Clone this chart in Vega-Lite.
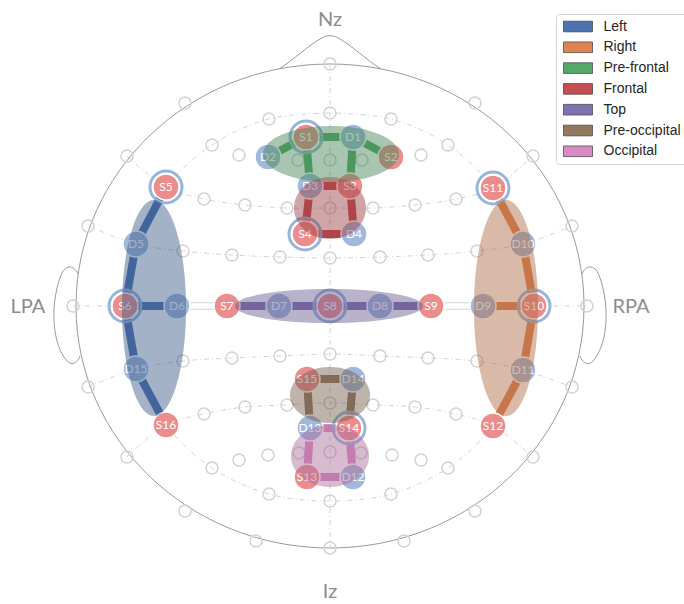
{
  "$schema": "https://vega.github.io/schema/vega-lite/v6.json",
  "width": 684,
  "height": 604,
  "padding": 0,
  "autosize": {"type": "fit", "contains": "padding"},
  "background": "white",
  "config": {"view": {"stroke": null}},
  "resolve": {"legend": {"color": "independent"}},
  "datasets": {
    "head": [{"X": 0, "Y": 0}],
    "landmarks": [
      {"label": "Nz", "X": 0, "Y": 286},
      {"label": "Iz", "X": 0, "Y": -286},
      {"label": "LPA", "X": -302, "Y": -1},
      {"label": "RPA", "X": 301, "Y": -1}
    ],
    "grid": [
      {"X": 0, "Y": 242}, {"X": -145, "Y": 203}, {"X": 145, "Y": 203}, {"X": -203, "Y": 150}, {"X": 203, "Y": 150},
      {"X": -242, "Y": 80}, {"X": 242, "Y": 80}, {"X": -257, "Y": 0}, {"X": 257, "Y": 0}, {"X": -242, "Y": -81},
      {"X": 242, "Y": -81}, {"X": -203, "Y": -151}, {"X": 203, "Y": -151}, {"X": -145, "Y": -205}, {"X": 145, "Y": -205},
      {"X": -74, "Y": -235}, {"X": 74, "Y": -235}, {"X": 0, "Y": -242},
      {"X": 0, "Y": 193}, {"X": -61, "Y": 187}, {"X": 61, "Y": 187}, {"X": -118, "Y": 161}, {"X": 118, "Y": 161},
      {"X": -118, "Y": -162}, {"X": 118, "Y": -162}, {"X": -61, "Y": -188}, {"X": 61, "Y": -188}, {"X": 0, "Y": -195},
      {"X": -91, "Y": 151}, {"X": -32, "Y": 146}, {"X": 0, "Y": 146}, {"X": 32, "Y": 146}, {"X": 91, "Y": 151},
      {"X": -126, "Y": 107}, {"X": -85, "Y": 101}, {"X": -43, "Y": 98}, {"X": 0, "Y": 98}, {"X": 43, "Y": 98}, {"X": 85, "Y": 101}, {"X": 126, "Y": 107},
      {"X": -147, "Y": 55}, {"X": -98, "Y": 51}, {"X": -50, "Y": 49}, {"X": 0, "Y": 48}, {"X": 50, "Y": 49}, {"X": 98, "Y": 51}, {"X": 147, "Y": 55},
      {"X": -147, "Y": -55}, {"X": -98, "Y": -52}, {"X": -50, "Y": -50}, {"X": 0, "Y": -48}, {"X": 50, "Y": -50}, {"X": 98, "Y": -52}, {"X": 147, "Y": -55},
      {"X": -126, "Y": -108}, {"X": -85, "Y": -101}, {"X": -43, "Y": -99}, {"X": 0, "Y": -97}, {"X": 43, "Y": -99}, {"X": 85, "Y": -101}, {"X": 126, "Y": -108},
      {"X": -91, "Y": -154}, {"X": -62, "Y": -149}, {"X": -31, "Y": -147}, {"X": 0, "Y": -146}, {"X": 31, "Y": -147}, {"X": 62, "Y": -149}, {"X": 91, "Y": -154}
    ],
    "rows": [
      {"row": "mid", "i": 0, "X": 0, "Y": 242}, {"row": "mid", "i": 1, "X": 0, "Y": -242},
      {"row": "C", "i": 0, "X": -257, "Y": 0}, {"row": "C", "i": 1, "X": 257, "Y": 0},
      {"row": "ring", "i": 0, "X": 0, "Y": 193}, {"row": "ring", "i": 1, "X": -61, "Y": 187}, {"row": "ring", "i": 2, "X": -118, "Y": 161},
      {"row": "ring", "i": 3, "X": -164, "Y": 119}, {"row": "ring", "i": 4, "X": -194, "Y": 62}, {"row": "ring", "i": 5, "X": -205, "Y": 0},
      {"row": "ring", "i": 6, "X": -194, "Y": -63}, {"row": "ring", "i": 7, "X": -164, "Y": -119}, {"row": "ring", "i": 8, "X": -118, "Y": -162},
      {"row": "ring", "i": 9, "X": -61, "Y": -188}, {"row": "ring", "i": 10, "X": 0, "Y": -195}, {"row": "ring", "i": 11, "X": 61, "Y": -188},
      {"row": "ring", "i": 12, "X": 118, "Y": -162}, {"row": "ring", "i": 13, "X": 163, "Y": -120}, {"row": "ring", "i": 14, "X": 193, "Y": -64},
      {"row": "ring", "i": 15, "X": 204, "Y": 0}, {"row": "ring", "i": 16, "X": 193, "Y": 62}, {"row": "ring", "i": 17, "X": 163, "Y": 118},
      {"row": "ring", "i": 18, "X": 118, "Y": 161}, {"row": "ring", "i": 19, "X": 61, "Y": 187}, {"row": "ring", "i": 20, "X": 0, "Y": 193},
      {"row": "F", "i": 0, "X": -203, "Y": 150}, {"row": "F", "i": 1, "X": -164, "Y": 119}, {"row": "F", "i": 2, "X": -126, "Y": 107},
      {"row": "F", "i": 3, "X": -85, "Y": 101}, {"row": "F", "i": 4, "X": -43, "Y": 98}, {"row": "F", "i": 5, "X": 0, "Y": 98},
      {"row": "F", "i": 6, "X": 43, "Y": 98}, {"row": "F", "i": 7, "X": 85, "Y": 101}, {"row": "F", "i": 8, "X": 126, "Y": 107},
      {"row": "F", "i": 9, "X": 163, "Y": 118}, {"row": "F", "i": 10, "X": 203, "Y": 150},
      {"row": "FC", "i": 0, "X": -242, "Y": 80}, {"row": "FC", "i": 1, "X": -194, "Y": 62}, {"row": "FC", "i": 2, "X": -147, "Y": 55},
      {"row": "FC", "i": 3, "X": -98, "Y": 51}, {"row": "FC", "i": 4, "X": -50, "Y": 49}, {"row": "FC", "i": 5, "X": 0, "Y": 48},
      {"row": "FC", "i": 6, "X": 50, "Y": 49}, {"row": "FC", "i": 7, "X": 98, "Y": 51}, {"row": "FC", "i": 8, "X": 147, "Y": 55},
      {"row": "FC", "i": 9, "X": 193, "Y": 62}, {"row": "FC", "i": 10, "X": 242, "Y": 80},
      {"row": "CP", "i": 0, "X": -242, "Y": -81}, {"row": "CP", "i": 1, "X": -194, "Y": -63}, {"row": "CP", "i": 2, "X": -147, "Y": -55},
      {"row": "CP", "i": 3, "X": -98, "Y": -52}, {"row": "CP", "i": 4, "X": -50, "Y": -50}, {"row": "CP", "i": 5, "X": 0, "Y": -48},
      {"row": "CP", "i": 6, "X": 50, "Y": -50}, {"row": "CP", "i": 7, "X": 98, "Y": -52}, {"row": "CP", "i": 8, "X": 147, "Y": -55},
      {"row": "CP", "i": 9, "X": 193, "Y": -64}, {"row": "CP", "i": 10, "X": 242, "Y": -81},
      {"row": "P", "i": 0, "X": -203, "Y": -151}, {"row": "P", "i": 1, "X": -164, "Y": -119}, {"row": "P", "i": 2, "X": -126, "Y": -108},
      {"row": "P", "i": 3, "X": -85, "Y": -101}, {"row": "P", "i": 4, "X": -43, "Y": -99}, {"row": "P", "i": 5, "X": 0, "Y": -97},
      {"row": "P", "i": 6, "X": 43, "Y": -99}, {"row": "P", "i": 7, "X": 85, "Y": -101}, {"row": "P", "i": 8, "X": 126, "Y": -108},
      {"row": "P", "i": 9, "X": 163, "Y": -120}, {"row": "P", "i": 10, "X": 203, "Y": -151}
    ],
    "optodes": [
      {"name": "S1", "kind": "Source", "X": -24, "Y": 169, "short": true},
      {"name": "S2", "kind": "Source", "X": 61, "Y": 149, "short": false},
      {"name": "S3", "kind": "Source", "X": 20, "Y": 120, "short": false},
      {"name": "S4", "kind": "Source", "X": -25, "Y": 72, "short": true},
      {"name": "S5", "kind": "Source", "X": -164, "Y": 119, "short": true},
      {"name": "S6", "kind": "Source", "X": -205, "Y": 0, "short": true},
      {"name": "S7", "kind": "Source", "X": -103, "Y": 0, "short": false},
      {"name": "S8", "kind": "Source", "X": 0, "Y": 0, "short": true},
      {"name": "S9", "kind": "Source", "X": 101, "Y": 0, "short": false},
      {"name": "S10", "kind": "Source", "X": 204, "Y": 0, "short": true},
      {"name": "S11", "kind": "Source", "X": 163, "Y": 118, "short": true},
      {"name": "S12", "kind": "Source", "X": 163, "Y": -120, "short": false},
      {"name": "S13", "kind": "Source", "X": -23, "Y": -171, "short": false},
      {"name": "S14", "kind": "Source", "X": 19, "Y": -122, "short": true},
      {"name": "S15", "kind": "Source", "X": -23, "Y": -73, "short": false},
      {"name": "S16", "kind": "Source", "X": -164, "Y": -119, "short": false},
      {"name": "D1", "kind": "Detector", "X": 23, "Y": 169, "short": false},
      {"name": "D2", "kind": "Detector", "X": -62, "Y": 149, "short": false},
      {"name": "D3", "kind": "Detector", "X": -20, "Y": 120, "short": false},
      {"name": "D4", "kind": "Detector", "X": 24, "Y": 72, "short": false},
      {"name": "D5", "kind": "Detector", "X": -194, "Y": 62, "short": false},
      {"name": "D6", "kind": "Detector", "X": -153, "Y": 0, "short": false},
      {"name": "D7", "kind": "Detector", "X": -51, "Y": 0, "short": false},
      {"name": "D8", "kind": "Detector", "X": 50, "Y": 0, "short": false},
      {"name": "D9", "kind": "Detector", "X": 153, "Y": 0, "short": false},
      {"name": "D10", "kind": "Detector", "X": 193, "Y": 62, "short": false},
      {"name": "D11", "kind": "Detector", "X": 193, "Y": -64, "short": false},
      {"name": "D12", "kind": "Detector", "X": 23, "Y": -171, "short": false},
      {"name": "D13", "kind": "Detector", "X": -20, "Y": -122, "short": false},
      {"name": "D14", "kind": "Detector", "X": 23, "Y": -73, "short": false},
      {"name": "D15", "kind": "Detector", "X": -194, "Y": -63, "short": false}
    ],
    "channels": [
      {"src": "S5", "det": "D5", "roi": "Left"}, {"src": "S6", "det": "D5", "roi": "Left"}, {"src": "S6", "det": "D6", "roi": "Left"},
      {"src": "S6", "det": "D15", "roi": "Left"}, {"src": "S16", "det": "D15", "roi": "Left"},
      {"src": "S11", "det": "D10", "roi": "Right"}, {"src": "S10", "det": "D10", "roi": "Right"}, {"src": "S10", "det": "D9", "roi": "Right"},
      {"src": "S10", "det": "D11", "roi": "Right"}, {"src": "S12", "det": "D11", "roi": "Right"},
      {"src": "S1", "det": "D2", "roi": "Pre-frontal"}, {"src": "S1", "det": "D1", "roi": "Pre-frontal"}, {"src": "S2", "det": "D1", "roi": "Pre-frontal"},
      {"src": "S1", "det": "D3", "roi": "Pre-frontal"}, {"src": "S3", "det": "D1", "roi": "Pre-frontal"},
      {"src": "S3", "det": "D3", "roi": "Frontal"}, {"src": "S4", "det": "D3", "roi": "Frontal"}, {"src": "S3", "det": "D4", "roi": "Frontal"},
      {"src": "S4", "det": "D4", "roi": "Frontal"},
      {"src": "S7", "det": "D7", "roi": "Top"}, {"src": "S8", "det": "D7", "roi": "Top"}, {"src": "S8", "det": "D8", "roi": "Top"},
      {"src": "S9", "det": "D8", "roi": "Top"},
      {"src": "S15", "det": "D14", "roi": "Pre-occipital"}, {"src": "S15", "det": "D13", "roi": "Pre-occipital"}, {"src": "S14", "det": "D14", "roi": "Pre-occipital"},
      {"src": "S14", "det": "D13", "roi": "Occipital"}, {"src": "S13", "det": "D13", "roi": "Occipital"}, {"src": "S14", "det": "D12", "roi": "Occipital"},
      {"src": "S13", "det": "D12", "roi": "Occipital"},
      {"src": "S7", "det": "D6", "roi": "none"}, {"src": "S9", "det": "D9", "roi": "none"}
    ],
    "rois": [
      {"roi": "Left", "X": -176, "Y": -2},
      {"roi": "Right", "X": 176, "Y": -2},
      {"roi": "Pre-frontal", "X": 1, "Y": 152},
      {"roi": "Frontal", "X": 0, "Y": 98},
      {"roi": "Top", "X": -1, "Y": 0},
      {"roi": "Pre-occipital", "X": 0, "Y": -89},
      {"roi": "Occipital", "X": 0, "Y": -150}
    ]
  },
  "layer": [
    {
      "data": {"name": "head"},
      "mark": {
        "type": "point", "filled": false, "size": 4, "stroke": "#9a9a9a", "strokeWidth": 1, "opacity": 1,
        "shape": "M-254,0C-254,-133.7,-140.3,-242,0,-242C140.3,-242,254,-133.7,254,0C254,133.7,140.3,242,0,242C-140.3,242,-254,133.7,-254,0ZM-51,-237C-38,-245,-20,-262,-8,-268C-4,-271,4,-271,8,-268C20,-262,38,-245,51,-237M-252,-32C-256,-42,-266,-42,-270,-28C-280,0,-278,40,-262,56C-257,60,-252,56,-250,50M252,-32C256,-42,266,-42,270,-28C280,0,278,40,262,56C257,60,252,56,250,50"
      },
      "encoding": {
        "x": {"field": "X", "type": "quantitative", "scale": {"domain": [-330, 354], "nice": false, "zero": false}, "axis": null},
        "y": {"field": "Y", "type": "quantitative", "scale": {"domain": [-298, 306], "nice": false, "zero": false}, "axis": null}
      }
    },
    {
      "data": {"name": "rows"},
      "mark": {"type": "line", "interpolate": "catmull-rom", "stroke": "#d4d4d4", "strokeWidth": 1, "strokeDash": [5, 3, 1, 3]},
      "encoding": {
        "x": {"field": "X", "type": "quantitative", "axis": null},
        "y": {"field": "Y", "type": "quantitative", "axis": null},
        "detail": {"field": "row"},
        "order": {"field": "i", "type": "quantitative"}
      }
    },
    {
      "data": {"name": "grid"},
      "mark": {"type": "point", "filled": false, "size": 144, "stroke": "#d2d2d2", "strokeWidth": 1.5, "opacity": 1},
      "encoding": {
        "x": {"field": "X", "type": "quantitative", "axis": null},
        "y": {"field": "Y", "type": "quantitative", "axis": null}
      }
    },
    {
      "data": {"name": "channels"},
      "transform": [
        {"filter": "datum.roi === 'none'"},
        {"lookup": "src", "from": {"data": {"name": "optodes"}, "key": "name", "fields": ["X", "Y"]}, "as": ["sx", "sy"]},
        {"lookup": "det", "from": {"data": {"name": "optodes"}, "key": "name", "fields": ["X", "Y"]}, "as": ["dx", "dy"]}
      ],
      "layer": [
        {"mark": {"type": "rule", "stroke": "#dcdcdc", "strokeWidth": 8, "strokeCap": "butt"}},
        {"mark": {"type": "rule", "stroke": "white", "strokeWidth": 5.5, "strokeCap": "butt"}}
      ],
      "encoding": {
        "x": {"field": "sx", "type": "quantitative", "axis": null},
        "y": {"field": "sy", "type": "quantitative", "axis": null},
        "x2": {"field": "dx"},
        "y2": {"field": "dy"}
      }
    },
    {
      "data": {"name": "channels"},
      "transform": [
        {"filter": "datum.roi !== 'none'"},
        {"lookup": "src", "from": {"data": {"name": "optodes"}, "key": "name", "fields": ["X", "Y"]}, "as": ["sx", "sy"]},
        {"lookup": "det", "from": {"data": {"name": "optodes"}, "key": "name", "fields": ["X", "Y"]}, "as": ["dx", "dy"]}
      ],
      "mark": {"type": "rule", "strokeWidth": 8, "strokeCap": "butt"},
      "encoding": {
        "x": {"field": "sx", "type": "quantitative", "axis": null},
        "y": {"field": "sy", "type": "quantitative", "axis": null},
        "x2": {"field": "dx"},
        "y2": {"field": "dy"},
        "color": {
          "field": "roi", "type": "nominal", "legend": null,
          "scale": {
            "domain": ["Left", "Right", "Pre-frontal", "Frontal", "Top", "Pre-occipital", "Occipital"],
            "range": ["#4c72b0", "#dd8452", "#55a868", "#c44e52", "#8172b3", "#937860", "#da8bc3"]
          }
        }
      }
    },
    {
      "data": {"name": "optodes"},
      "transform": [{"filter": "datum.short"}],
      "mark": {"type": "point", "filled": false, "size": 1024, "stroke": "#97b5da", "strokeWidth": 3, "opacity": 1},
      "encoding": {
        "x": {"field": "X", "type": "quantitative", "axis": null},
        "y": {"field": "Y", "type": "quantitative", "axis": null}
      }
    },
    {
      "data": {"name": "optodes"},
      "mark": {"type": "point", "filled": true, "size": 676, "stroke": "white", "strokeWidth": 1.5, "opacity": 1},
      "encoding": {
        "x": {"field": "X", "type": "quantitative", "axis": null},
        "y": {"field": "Y", "type": "quantitative", "axis": null},
        "fill": {
          "field": "kind", "type": "nominal", "legend": null,
          "scale": {"domain": ["Source", "Detector"], "range": ["#ec8d8d", "#9fb8dc"]}
        }
      }
    },
    {
      "data": {"name": "optodes"},
      "mark": {"type": "text", "font": "Lato", "fontSize": 12, "fill": "white", "align": "center", "baseline": "middle"},
      "encoding": {
        "x": {"field": "X", "type": "quantitative", "axis": null},
        "y": {"field": "Y", "type": "quantitative", "axis": null},
        "text": {"field": "name"}
      }
    },
    {
      "data": {"name": "rois"},
      "mark": {"type": "point", "filled": true, "size": 4, "fill": "black", "fillOpacity": 0.16, "strokeWidth": 0},
      "encoding": {
        "x": {"field": "X", "type": "quantitative", "axis": null},
        "y": {"field": "Y", "type": "quantitative", "axis": null},
        "shape": {
          "field": "roi", "type": "nominal", "legend": null,
          "scale": {
            "domain": ["Left", "Right", "Pre-frontal", "Frontal", "Top", "Pre-occipital", "Occipital"],
            "range": [
              "M-32,0C-32,-59.6,-17.7,-108,0,-108C17.7,-108,32,-59.6,32,0C32,59.6,17.7,108,0,108C-17.7,108,-32,59.6,-32,0Z",
              "M-32,0C-32,-59.6,-17.7,-108,0,-108C17.7,-108,32,-59.6,32,0C32,59.6,17.7,108,0,108C-17.7,108,-32,59.6,-32,0Z",
              "M-68,0C-68,-15.5,-37.6,-28,0,-28C37.6,-28,68,-15.5,68,0C68,15.5,37.6,28,0,28C-37.6,28,-68,15.5,-68,0Z",
              "M-36,0C-36,-17.1,-19.9,-31,0,-31C19.9,-31,36,-17.1,36,0C36,17.1,19.9,31,0,31C-19.9,31,-36,17.1,-36,0Z",
              "M-94,0C-94,-9.4,-51.9,-17,0,-17C51.9,-17,94,-9.4,94,0C94,9.4,51.9,17,0,17C-51.9,17,-94,9.4,-94,0Z",
              "M-40,0C-40,-15.5,-22.1,-28,0,-28C22.1,-28,40,-15.5,40,0C40,15.5,22.1,28,0,28C-22.1,28,-40,15.5,-40,0Z",
              "M-39,0C-39,-17.1,-21.5,-31,0,-31C21.5,-31,39,-17.1,39,0C39,17.1,21.5,31,0,31C-21.5,31,-39,17.1,-39,0Z"
            ]
          }
        }
      }
    },
    {
      "data": {"name": "rois"},
      "mark": {"type": "point", "filled": true, "size": 4, "fillOpacity": 0.36, "strokeWidth": 0},
      "encoding": {
        "x": {"field": "X", "type": "quantitative", "axis": null},
        "y": {"field": "Y", "type": "quantitative", "axis": null},
        "shape": {"field": "roi", "type": "nominal", "legend": null},
        "color": {
          "field": "roi", "type": "nominal",
          "scale": {
            "domain": ["Left", "Right", "Pre-frontal", "Frontal", "Top", "Pre-occipital", "Occipital"],
            "range": ["#4c72b0", "#dd8452", "#55a868", "#c44e52", "#8172b3", "#937860", "#da8bc3"]
          },
          "legend": {
            "title": null,
            "orient": "none",
            "legendX": 556,
            "legendY": 14,
            "padding": 5.5,
            "rowPadding": 6.8,
            "symbolType": "M-3,-1.1H3V1.1H-3Z",
            "symbolSize": 93.5,
            "symbolOffset": 9.5,
            "labelOffset": 18.5,
            "labelFont": "Liberation Sans",
            "labelFontSize": 14,
            "labelColor": "#262626",
            "labelLimit": 200,
            "strokeColor": "#d4d4d4",
            "fillColor": "white",
            "cornerRadius": 3,
            "symbolStrokeColor": "#4d4d4d",
            "symbolStrokeWidth": 0.8,
            "symbolOpacity": 1,
            "encode": {
              "symbols": {
                "update": {
                  "shape": {"value": "M-3,-1.1H3V1.1H-3Z"},
                  "stroke": {"value": "#4d4d4d"},
                  "strokeWidth": {"value": 0.8},
                  "opacity": {"value": 1},
                  "fillOpacity": {"value": 1}
                }
              }
            }
          }
        }
      }
    },
    {
      "data": {"name": "landmarks"},
      "mark": {"type": "text", "font": "Lato", "fontSize": 20, "fill": "#8c8c8c", "align": "center", "baseline": "middle"},
      "encoding": {
        "x": {"field": "X", "type": "quantitative", "axis": null},
        "y": {"field": "Y", "type": "quantitative", "axis": null},
        "text": {"field": "label"}
      }
    }
  ]
}
